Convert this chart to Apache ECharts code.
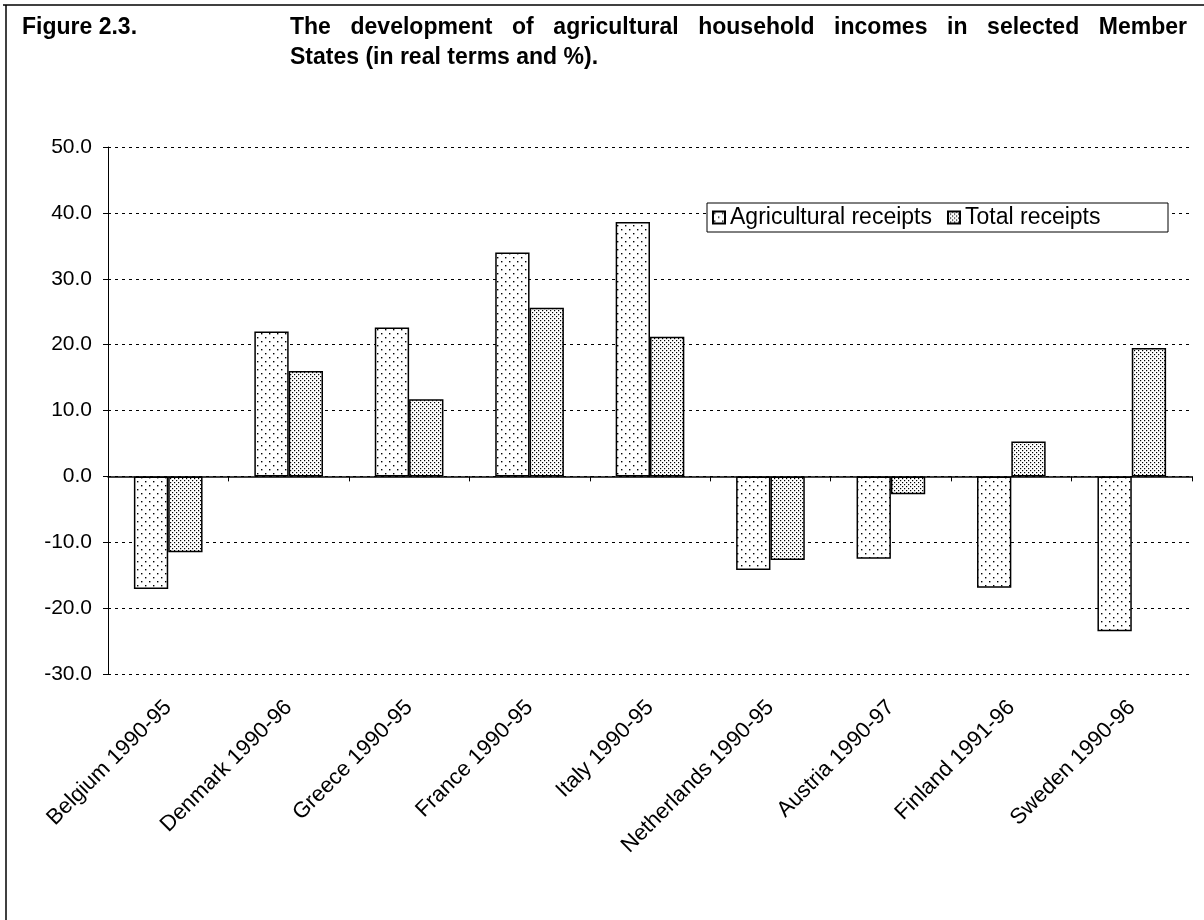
<!DOCTYPE html>
<html>
<head>
<meta charset="utf-8">
<script src="https://cdn.jsdelivr.net/npm/echarts@6/dist/echarts.min.js"></script>
<style>
html,body{margin:0;padding:0;background:#fff;}
#chart{width:1204px;height:920px;}
</style>
</head>
<body>
<div id="chart"></div>
<script>
// ---- data ----
const categories = ['Belgium 1990-95','Denmark 1990-96','Greece 1990-95','France 1990-95','Italy 1990-95','Netherlands 1990-95','Austria 1990-97','Finland 1991-96','Sweden 1990-96'];
const agriculturalReceipts = [-17.1, 22.0, 22.6, 34.0, 38.6, -14.2, -12.5, -16.9, -23.5];
const totalReceipts = [-11.5, 16.0, 11.7, 25.6, 21.2, -12.7, -2.7, 5.3, 19.5];
const seriesNames = ['Agricultural receipts', 'Total receipts'];
const figureLabel = 'Figure 2.3.';
const titleLine1 = 'The development of agricultural household incomes in selected Member';
const titleLine2 = 'States (in real terms and %).';

// ---- patterns ----
function makePattern(size, dots, dotSize) {
  const c = document.createElement('canvas');
  c.width = size; c.height = size;
  const g = c.getContext('2d');
  g.fillStyle = '#fff';
  g.fillRect(0, 0, size, size);
  g.fillStyle = '#000';
  dots.forEach(d => g.fillRect(d[0], d[1], dotSize, dotSize));
  return c;
}
const sparse = makePattern(8, [[1,1],[5,5]], 1.4);
const dense = makePattern(4, [[0,0],[2,2]], 1.2);

const FONT = '"Liberation Sans", Arial, Helvetica, sans-serif';
const TITLE_FONT = 'bold 23px "Liberation Sans", Arial, sans-serif';

// justified title words
const mctx = document.createElement('canvas').getContext('2d');
mctx.font = TITLE_FONT;
function justified(text, x0, x1, y) {
  const words = text.split(' ');
  const widths = words.map(w => mctx.measureText(w).width);
  const total = widths.reduce((a, b) => a + b, 0);
  const gap = (x1 - x0 - total) / (words.length - 1);
  let x = x0;
  return words.map((w, i) => {
    const el = { type: 'text', x: x, y: y, z: 10,
      style: { text: w, font: TITLE_FONT, fill: '#000', verticalAlign: 'middle' } };
    x += widths[i] + gap;
    return el;
  });
}

const graphics = [
  { type: 'line', z: 10, shape: { x1: 3, y1: 5, x2: 1204, y2: 5 }, style: { stroke: '#000', lineWidth: 1.5 } },
  { type: 'line', z: 10, shape: { x1: 6, y1: 5, x2: 6, y2: 920 }, style: { stroke: '#000', lineWidth: 1.5 } },
  { type: 'text', x: 22, y: 28, z: 10, style: { text: figureLabel, font: TITLE_FONT, fill: '#000', verticalAlign: 'middle' } },
  ...justified(titleLine1, 290, 1187, 28),
  { type: 'text', x: 290, y: 58, z: 10, style: { text: titleLine2, font: TITLE_FONT, fill: '#000', verticalAlign: 'middle' } },
  { type: 'rect', z: 3, shape: { x: 707, y: 203, width: 461, height: 29 }, style: { fill: '#fff', stroke: '#000', lineWidth: 1 } }
];

const chart = echarts.init(document.getElementById('chart'), null, { renderer: 'canvas' });
const legendCommon = {
  top: 204, padding: 0, icon: 'rect', itemWidth: 12, itemHeight: 12, z: 5,
  textStyle: { fontFamily: FONT, fontSize: 23, color: '#000', lineHeight: 27, padding: [0, 0, 0, 0] },
  selectedMode: false
};
chart.setOption({
  animation: false,
  backgroundColor: '#fff',
  graphic: graphics,
  legend: [
    Object.assign({ left: 712, data: [seriesNames[0]] }, legendCommon),
    Object.assign({ left: 947, data: [seriesNames[1]] }, legendCommon)
  ],
  grid: { left: 108, right: 12, top: 147, bottom: 246, containLabel: false },
  xAxis: [
    {
      type: 'category', data: categories,
      axisLine: { onZero: true, lineStyle: { color: '#000', width: 1.5 } },
      axisTick: { show: true, length: 5, interval: 0, lineStyle: { color: '#000', width: 1 } },
      axisLabel: { show: false },
      splitLine: { show: false }
    },
    {
      type: 'category', data: categories, position: 'bottom',
      axisLine: { show: false, onZero: false },
      axisTick: { show: false },
      axisLabel: { interval: 0, rotate: 45, margin: 30, fontFamily: FONT, fontSize: 22, color: '#000' },
      splitLine: { show: false }
    }
  ],
  yAxis: {
    type: 'value', min: -30, max: 50, interval: 10,
    axisLine: { show: true, lineStyle: { color: '#000', width: 1 } },
    axisTick: { show: true, length: 5, lineStyle: { color: '#000' } },
    axisLabel: { formatter: v => v.toFixed(1), fontFamily: FONT, fontSize: 21, color: '#000', margin: 16 },
    splitLine: { show: true, lineStyle: { color: '#000', width: 1, type: [3, 4] } }
  },
  series: [
    {
      name: seriesNames[0], type: 'bar', data: agriculturalReceipts, xAxisIndex: 0,
      barGap: '0%', barCategoryGap: '43%',
      itemStyle: { color: { image: sparse, repeat: 'repeat' }, borderColor: '#000', borderWidth: 1.5 }
    },
    {
      name: seriesNames[1], type: 'bar', data: totalReceipts, xAxisIndex: 0,
      barGap: '0%', barCategoryGap: '43%',
      itemStyle: { color: { image: dense, repeat: 'repeat' }, borderColor: '#000', borderWidth: 1.5 }
    }
  ]
});
</script>
</body>
</html>
